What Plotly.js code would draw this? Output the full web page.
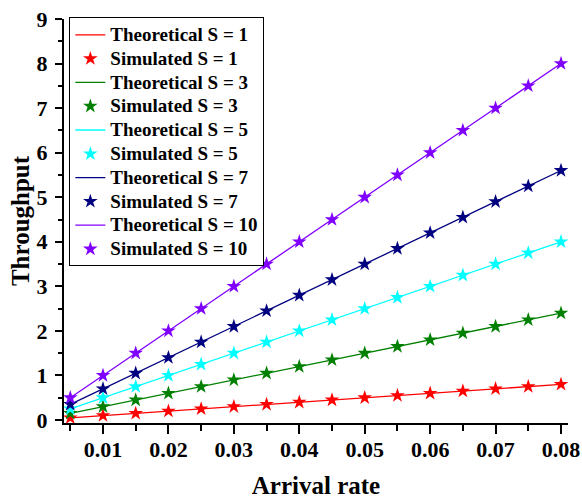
<!DOCTYPE html>
<html>
<head>
<meta charset="utf-8">
<script src="https://cdn.plot.ly/plotly-3.0.1.min.js"></script>
<style>
  html, body { margin: 0; padding: 0; background: #fff; }
  #chart { width: 582px; height: 499px; }
  /* legend rows stay compact while the entry text is drawn larger */
  text.legendtext { font-size: 19px !important; }
</style>
</head>
<body>
<div id="chart"></div>
<script>
// Arrival rates on the x axis
const arrivalRate = [0.005, 0.010, 0.015, 0.020, 0.025, 0.030, 0.035, 0.040,
                     0.045, 0.050, 0.055, 0.060, 0.065, 0.070, 0.075, 0.080];

// Throughput per number of servers S
const throughputS1  = [0.05, 0.10, 0.15, 0.20, 0.25, 0.30, 0.35, 0.40, 0.45, 0.50, 0.55, 0.60, 0.65, 0.70, 0.75, 0.80];
const throughputS3  = [0.15, 0.30, 0.45, 0.60, 0.75, 0.90, 1.05, 1.20, 1.35, 1.50, 1.65, 1.80, 1.95, 2.10, 2.25, 2.40];
const throughputS5  = [0.25, 0.50, 0.75, 1.00, 1.25, 1.50, 1.75, 2.00, 2.25, 2.50, 2.75, 3.00, 3.25, 3.50, 3.75, 4.00];
const throughputS7  = [0.35, 0.70, 1.05, 1.40, 1.75, 2.10, 2.45, 2.80, 3.15, 3.50, 3.85, 4.20, 4.55, 4.90, 5.25, 5.60];
const throughputS10 = [0.50, 1.00, 1.50, 2.00, 2.50, 3.00, 3.50, 4.00, 4.50, 5.00, 5.50, 6.00, 6.50, 7.00, 7.50, 8.00];

const serverCounts = [1, 3, 5, 7, 10];
const seriesValues = [throughputS1, throughputS3, throughputS5, throughputS7, throughputS10];
const seriesColors = ['#ff0000', '#008000', '#00ffff', '#000080', '#8000ff'];

const traces = [];
serverCounts.forEach((s, i) => {
  traces.push({
    x: arrivalRate, y: seriesValues[i],
    type: 'scatter', mode: 'lines',
    name: 'Theoretical S = ' + s,
    line: { color: seriesColors[i], width: 1.3 }
  });
  traces.push({
    x: arrivalRate, y: seriesValues[i],
    type: 'scatter', mode: 'markers',
    name: 'Simulated S = ' + s,
    marker: { symbol: 'star', color: seriesColors[i], size: 11, line: { width: 0 } }
  });
});

const serif = 'Liberation Serif, Times New Roman, serif';

const layout = {
  width: 582, height: 499,
  margin: { l: 64, r: 14, t: 19, b: 76 },
  paper_bgcolor: '#ffffff', plot_bgcolor: '#ffffff',
  showlegend: true,
  legend: {
    x: 0.01, y: 1.006, xanchor: 'left', yanchor: 'top',
    bgcolor: '#ffffff', bordercolor: '#000000', borderwidth: 1.3,
    font: { family: serif, size: 16, color: '#000000', weight: 'bold' },
    tracegroupgap: 0, traceorder: 'normal'
  },
  xaxis: {
    range: [0.00404, 0.08107],
    tickmode: 'array',
    tickvals: [0.01, 0.02, 0.03, 0.04, 0.05, 0.06, 0.07, 0.08],
    ticktext: ['0.01', '0.02', '0.03', '0.04', '0.05', '0.06', '0.07', '0.08'],
    ticks: 'outside', ticklen: 9, tickwidth: 2, tickcolor: '#000000',
    minor: { tickvals: [0.005, 0.015, 0.025, 0.035, 0.045, 0.055, 0.065, 0.075], ticks: 'outside', ticklen: 6, tickwidth: 2, tickcolor: '#000000' },
    showline: true, linecolor: '#000000', linewidth: 2,
    showgrid: false, zeroline: false,
    tickfont: { family: serif, size: 22, color: '#000000', weight: 'bold' },
    ticklabelstandoff: -3,
    title: { text: 'Arrival rate', font: { family: serif, size: 25, color: '#000000', weight: 'bold' }, standoff: 20 }
  },
  yaxis: {
    range: [-0.067, 9],
    tickmode: 'array',
    tickvals: [0, 1, 2, 3, 4, 5, 6, 7, 8, 9],
    ticks: 'outside', ticklen: 7, tickwidth: 2, tickcolor: '#000000',
    minor: { tickvals: [0.5, 1.5, 2.5, 3.5, 4.5, 5.5, 6.5, 7.5, 8.5], ticks: 'outside', ticklen: 4, tickwidth: 2, tickcolor: '#000000' },
    showline: true, linecolor: '#000000', linewidth: 2,
    showgrid: false, zeroline: false,
    tickfont: { family: serif, size: 22, color: '#000000', weight: 'bold' },
    ticklabelstandoff: 3,
    title: { text: 'Throughput', font: { family: serif, size: 25, color: '#000000', weight: 'bold' }, standoff: 0 }
  }
};

Plotly.newPlot('chart', traces, layout, { displayModeBar: false, staticPlot: true });
</script>
</body>
</html>
